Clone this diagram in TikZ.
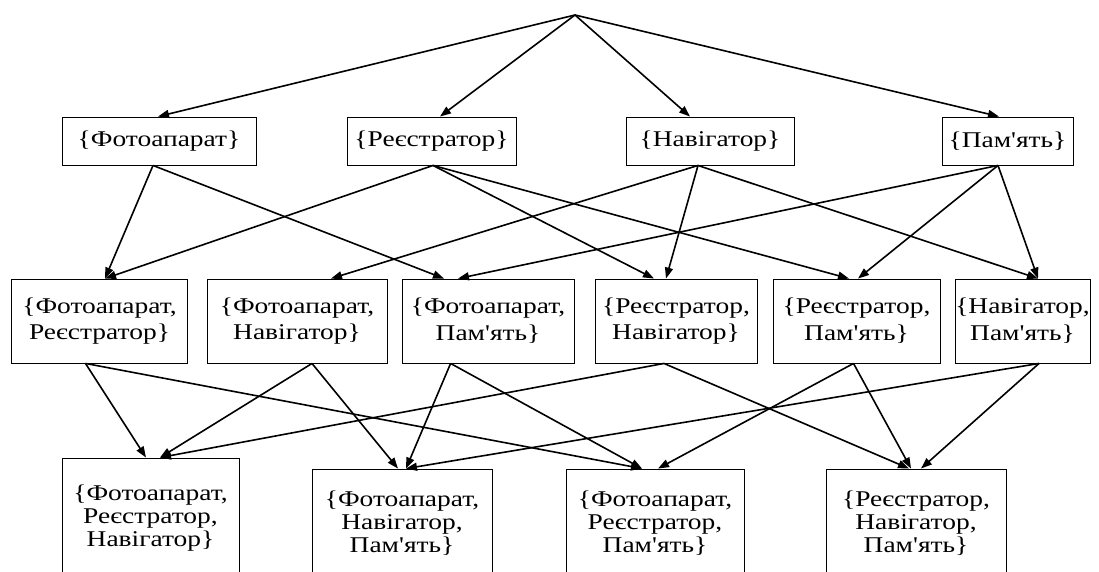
\documentclass[tikz,border=0pt]{standalone}
\usepackage{fontspec}
\setmainfont{Liberation Serif}
\newfontfamily\labelfont{Liberation Serif}[Ligatures=TeXOff, FakeStretch=1.22]
\usetikzlibrary{arrows.meta}
\begin{document}
\begin{tikzpicture}[x=1pt,y=-1pt,
  box/.style={draw, line width=0.9pt, inner sep=0pt, align=center},
  one/.style={box, minimum height=48pt, font=\labelfont\fontsize{22.5}{26}\selectfont},
  two/.style={box, minimum height=84pt, font=\labelfont\fontsize{22.5}{26.7}\selectfont},
  three/.style={box, font=\labelfont\fontsize{22.5}{23}\selectfont},
  edge/.style={line width=1.6pt, -{Triangle[length=11pt,width=8pt]}}]
\useasboundingbox (0,0) rectangle (1099,572);
\begin{scope}
\clip (0,0) rectangle (1099,572);

% root of the lattice (empty set)
\coordinate (R) at (575,15);

% single elements
\node[one, minimum width=194pt] (P1) at (159,141)    {\{Фотоапарат\}};
\node[one, minimum width=169pt] (P2) at (431.5,141)  {\{Реєстратор\}};
\node[one, minimum width=168pt] (P3) at (710,141)    {\{Навігатор\}};
\node[one, minimum width=131pt] (P4) at (1007.5,141) {\{Пам'ять\}};

% pairs
\node[two, minimum width=175.6pt] (A) at (99.5,321)  {\{Фотоапарат,\\Реєстратор\}};
\node[two, minimum width=180pt]   (B) at (297,321)   {\{Фотоапарат,\\Навігатор\}};
\node[two, minimum width=172pt]   (C) at (488,321)   {\{Фотоапарат,\\Пам'ять\}};
\node[two, minimum width=162pt]   (D) at (676,321)   {\{Реєстратор,\\Навігатор\}};
\node[two, minimum width=167pt]   (E) at (856.5,321) {\{Реєстратор,\\Пам'ять\}};
\node[two, minimum width=135pt]   (F) at (1022.5,321) {\{Навігатор,\\Пам'ять\}};

% triples
\node[three, minimum width=177pt, minimum height=120pt] (G) at (150.5,518) {\{Фотоапарат,\\Реєстратор,\\Навігатор\}};
\node[three, minimum width=180pt, minimum height=109pt] (H) at (402,523.5) {\{Фотоапарат,\\Навігатор,\\Пам'ять\}};
\node[three, minimum width=178pt, minimum height=109pt] (I) at (655,523.5) {\{Фотоапарат,\\Реєстратор,\\Пам'ять\}};
\node[three, minimum width=180pt, minimum height=109pt] (J) at (916,523.5) {\{Реєстратор,\\Навігатор,\\Пам'ять\}};

% root -> singles
\draw[edge] (R) -- ([xshift=-1pt]P1.north);
\draw[edge] (R) -- ([xshift=8.5pt]P2.north);
\draw[edge] (R) -- ([xshift=-20pt]P3.north);
\draw[edge] (R) -- ([xshift=-8.5pt]P4.north);

% singles -> pairs
\draw[edge] ([xshift=-6pt]P1.south) -- ([xshift=5.5pt]A.north);
\draw[edge] ([xshift=-6pt]P1.south) -- ([xshift=-44pt]C.north);
\draw[edge] ([xshift=1.5pt]P2.south) -- ([xshift=5.5pt]A.north);
\draw[edge] ([xshift=1.5pt]P2.south) -- ([xshift=-22pt]D.north);
\draw[edge] ([xshift=1.5pt]P2.south) -- ([xshift=-7.5pt]E.north);
\draw[edge] ([xshift=-12pt]P3.south) -- ([xshift=34pt]B.north);
\draw[edge] ([xshift=-12pt]P3.south) -- ([xshift=-10pt]D.north);
\draw[edge] ([xshift=-12pt]P3.south) -- ([xshift=15.5pt]F.north);
\draw[edge] ([xshift=-9.5pt]P4.south) -- ([xshift=-30pt]C.north);
\draw[edge] ([xshift=-9.5pt]P4.south) -- ([xshift=1.5pt]E.north);
\draw[edge] ([xshift=-9.5pt]P4.south) -- ([xshift=15.5pt]F.north);

% pairs -> triples
\draw[edge] ([xshift=-14pt]A.south) -- ([xshift=-4.5pt]G.north);
\draw[edge] ([xshift=-14pt]A.south) -- ([xshift=-13pt]I.north);
\draw[edge] ([xshift=15pt]B.south) -- ([xshift=9.5pt]G.north);
\draw[edge] ([xshift=15pt]B.south) -- ([xshift=-4pt]H.north);
\draw[edge] ([xshift=-37.4pt]C.south) -- ([xshift=4pt]H.north);
\draw[edge] ([xshift=-37.4pt]C.south) -- ([xshift=-13pt]I.north);
\draw[edge] ([xshift=-12pt]D.south) -- ([xshift=9.5pt]G.north);
\draw[edge] ([xshift=-12pt]D.south) -- ([xshift=-7pt]J.north);
\draw[edge] ([xshift=-3pt]E.south) -- ([xshift=3pt]I.north);
\draw[edge] ([xshift=-3pt]E.south) -- ([xshift=-5pt]J.north);
\draw[edge] ([xshift=16.5pt]F.south) -- ([xshift=4pt]H.north);
\draw[edge] ([xshift=16.5pt]F.south) -- ([xshift=5pt]J.north);
\end{scope}
\end{tikzpicture}
\end{document}
